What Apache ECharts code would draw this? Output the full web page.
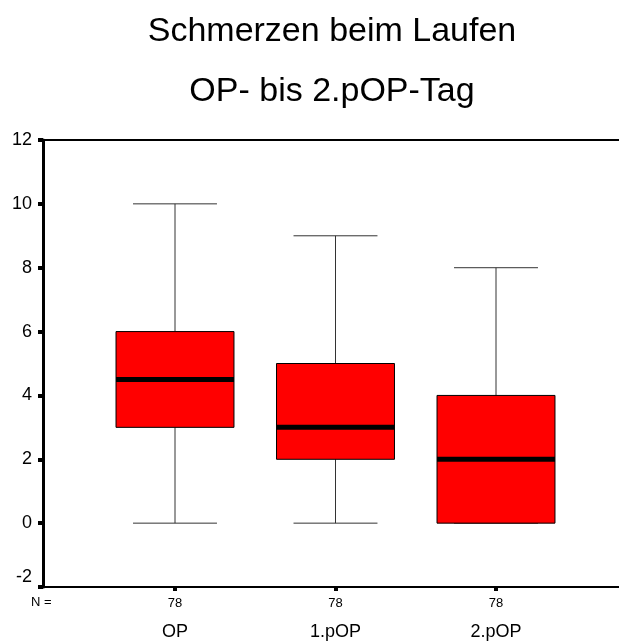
<!DOCTYPE html>
<html>
<head>
<meta charset="utf-8">
<script src="https://cdn.jsdelivr.net/npm/echarts@6/dist/echarts.min.js"></script>
<style>html,body{margin:0;padding:0;background:#fff;overflow:hidden;}#c{width:619px;height:643px;}</style>
</head>
<body>
<div id="c"></div>
<script>
const categories = ['OP', '1.pOP', '2.pOP'];
const nValues = [78, 78, 78];
const whiskerLow = [0, 0, 0];
const q1Values = [3, 2, 0];
const medianValues = [4.5, 3, 2];
const q3Values = [6, 5, 4];
const whiskerHigh = [10, 9, 8];
const yTicks = [-2, 0, 2, 4, 6, 8, 10, 12];

const boxData = categories.map((c, i) => [i, whiskerLow[i], q1Values[i], medianValues[i], q3Values[i], whiskerHigh[i]]);
const FONT = 'Liberation Sans, Arial, sans-serif';

const frameAxis = (pos) => ({
  type: 'value', gridIndex: 0, min: 0, max: 1, position: pos,
  axisLine: {show: true, onZero: false, lineStyle: {color: '#000', width: 2}},
  axisTick: {show: false}, axisLabel: {show: false}, splitLine: {show: false}
});

const chart = echarts.init(document.getElementById('c'), null, {renderer: 'canvas'});
chart.setOption({
  backgroundColor: '#fff',
  animation: false,
  title: {
    text: 'Schmerzen beim Laufen\nOP- bis 2.pOP-Tag',
    left: 332, top: 2, textAlign: 'center', padding: 0,
    textStyle: {fontFamily: FONT, fontSize: 34, fontWeight: 'normal', color: '#000', lineHeight: 60}
  },
  graphic: [{
    type: 'text', left: 31, top: 596,
    style: {text: 'N =', fontFamily: FONT, fontSize: 13, fill: '#000'}
  }],
  grid: [
    {left: 43, right: 0, top: 140, bottom: 56},
    {left: 94.75, width: 481.5, top: 140, bottom: 56}
  ],
  xAxis: [
    frameAxis('bottom'),
    {
      type: 'category', gridIndex: 1, data: categories, position: 'bottom',
      axisLine: {show: false, onZero: false},
      axisTick: {show: true, alignWithLabel: true, length: 4, lineStyle: {color: '#000', width: 4}},
      axisLabel: {
        margin: 6,
        formatter: (v, i) => '{n|' + nValues[i] + '}\n{c|' + v + '}',
        rich: {
          n: {fontFamily: FONT, fontSize: 13, color: '#000', lineHeight: 20},
          c: {fontFamily: FONT, fontSize: 18, color: '#000', lineHeight: 38}
        }
      },
      splitLine: {show: false}
    },
    frameAxis('top')
  ],
  yAxis: [
    {
      type: 'value', gridIndex: 0, min: -2, max: 12, interval: 2,
      axisLine: {show: true, lineStyle: {color: '#000', width: 3}},
      axisTick: {show: true, length: 5, lineStyle: {color: '#000', width: 4}},
      axisLabel: {margin: 11, fontFamily: FONT, fontSize: 18, color: '#000',
        formatter: v => yTicks.indexOf(v) < 0 ? '' : (v === yTicks[0] ? '{low|' + v + '}' : String(v)),
        rich: {low: {fontFamily: FONT, fontSize: 18, color: '#000', padding: [0, 0, 20, 0]}}},
      splitLine: {show: false}
    },
    {type: 'value', gridIndex: 1, min: -2, max: 12, interval: 2, show: false}
  ],
  series: [{
    type: 'custom',
    xAxisIndex: 1, yAxisIndex: 1,
    data: boxData,
    encode: {x: 0, y: [1, 2, 3, 4, 5]},
    renderItem: function (params, api) {
      const i = api.value(0);
      const pLo = api.coord([i, api.value(1)]);
      const pQ1 = api.coord([i, api.value(2)]);
      const pMed = api.coord([i, api.value(3)]);
      const pQ3 = api.coord([i, api.value(4)]);
      const pHi = api.coord([i, api.value(5)]);
      const band = api.size([1, 0])[0];
      const bw = band * 0.735;
      const cw = band * 0.523;
      const x = pMed[0];
      const wStyle = {stroke: '#333', lineWidth: 1};
      return {
        type: 'group',
        children: [
          {type: 'line', shape: {x1: x, y1: pHi[1], x2: x, y2: pQ3[1]}, style: wStyle},
          {type: 'line', shape: {x1: x, y1: pQ1[1], x2: x, y2: pLo[1]}, style: wStyle},
          {type: 'line', shape: {x1: x - cw / 2, y1: pHi[1], x2: x + cw / 2, y2: pHi[1]}, style: wStyle},
          {type: 'line', shape: {x1: x - cw / 2, y1: pLo[1], x2: x + cw / 2, y2: pLo[1]}, style: wStyle},
          {type: 'rect', shape: {x: x - bw / 2, y: pQ3[1], width: bw, height: pQ1[1] - pQ3[1]},
            style: {fill: '#ff0000', stroke: '#000', lineWidth: 1}},
          {type: 'line', shape: {x1: x - bw / 2, y1: pMed[1], x2: x + bw / 2, y2: pMed[1]},
            style: {stroke: '#000', lineWidth: 5}}
        ]
      };
    }
  }]
});
</script>
</body>
</html>
